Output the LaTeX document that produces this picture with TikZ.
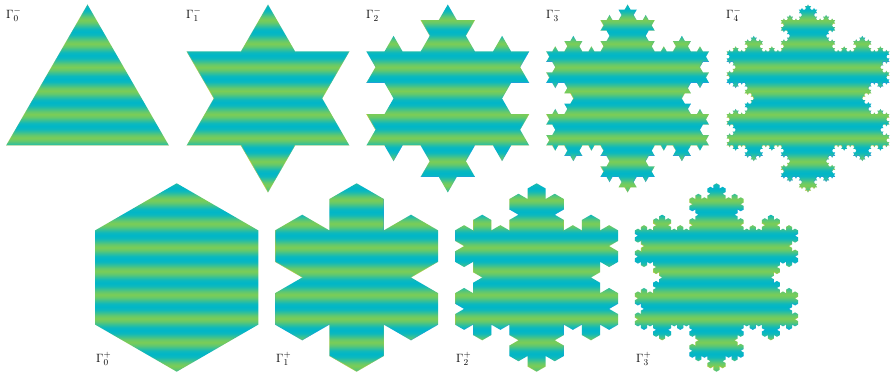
\documentclass[tikz,border=0pt]{standalone}
\usepackage{tikz}
\definecolor{gr}{RGB}{124,205,86}
\definecolor{te}{RGB}{0,182,200}
\definecolor{yl}{RGB}{250,200,40}
\definecolor{bl}{RGB}{40,140,245}
\colorlet{c0}{gr}
\colorlet{c1}{gr!80!te}
\colorlet{c2}{gr!44!te}
\colorlet{c3}{gr!10!te}
\colorlet{c4}{te}
\colorlet{c5}{c3}
\colorlet{c6}{c2}
\colorlet{c7}{c1}
% nine stripe periods, eight stops to the period
\gdef\stopsA{color(0bp)=(c0);color(25bp)=(c0)}
\foreach \i in {1,...,72}{%
  \pgfmathsetmacro\kpos{25+50*\i/72}%
  \pgfmathtruncatemacro\kidx{mod(\i,8)}%
  \xdef\stopsA{\stopsA;color(\kpos bp)=(c\kidx)}%
}
\xdef\stopsA{\stopsA;color(100bp)=(c0)}
\edef\kdeclare{\noexpand\pgfdeclareverticalshading{stripes}{100bp}{\stopsA}}
\kdeclare
\newdimen\kx \newdimen\ky \newcount\khead
\def\kturn#1{\global\advance\khead by #1\relax
  \ifnum\khead<0 \global\advance\khead by 12 \fi
  \ifnum\khead>11 \global\advance\khead by -12 \fi}
\def\kmove{%
  \global\advance\kx by \csname kdx\the\khead\endcsname\relax
  \global\advance\ky by \csname kdy\the\khead\endcsname\relax}
\def\ksegpath{\kmove\xdef\kpath{\kpath -- (\the\kx,\the\ky)}}
\def\ksegdraw{%
  \edef\xa{\the\kx}\edef\ya{\the\ky}\kmove
  \pgfmathsetmacro\kypx{375-0.5*(\ya+\the\ky)}%
  \pgfmathsetmacro\kv{cos(\kdeg*(\kypx-\kedge))-0.3*sin(30*\the\khead)}%
  \pgfmathsetmacro\ka{min(1,\kgain*(0.4-0.35*cos(30*\the\khead))*abs(\kv))}%
  \pgfmathsetmacro\ka{round(\ka*10)/10}%
  \ifdim\ka pt>0.05pt
    \ifdim\kv pt>0pt
      \draw[edgeline,draw=yl,draw opacity=\ka] (\xa,\ya) -- (\the\kx,\the\ky);
    \else
      \draw[edgeline,draw=bl,draw opacity=\ka] (\xa,\ya) -- (\the\kx,\the\ky);
    \fi
  \fi}
\def\kochgo#1{%
  \ifnum#1=0 \kseg
  \else
    \kochgo{\numexpr#1-1\relax}\kturn{\ksign}%
    \kochgo{\numexpr#1-1\relax}\kturn{\ksignb}%
    \kochgo{\numexpr#1-1\relax}\kturn{\ksign}%
    \kochgo{\numexpr#1-1\relax}%
  \fi}
\def\ksetstep#1{%
  \foreach \i in {0,...,11}{%
    \pgfmathsetlengthmacro\kta{#1*cos(30*\i)}%
    \pgfmathsetlengthmacro\ktb{-#1*sin(30*\i)}%
    \expandafter\xdef\csname kdx\i\endcsname{\kta}%
    \expandafter\xdef\csname kdy\i\endcsname{\ktb}%
  }}
\def\kwalk{%
  \global\kx=\kcx pt \global\ky=\ktop pt
  \global\khead=\kstart\relax
  \ifnum\ksides=3 \kochgo{\klev}\kturn{4}\kochgo{\klev}\kturn{4}\kochgo{\klev}%
  \else
    \kochgo{\klev}\kturn{2}\kochgo{\klev}\kturn{2}\kochgo{\klev}\kturn{2}%
    \kochgo{\klev}\kturn{2}\kochgo{\klev}\kturn{2}\kochgo{\klev}%
  \fi}
\def\kdrawshape{%
  \pgfmathsetmacro\kstepv{\kside/3^\klev}%
  \ksetstep{\kstepv}%
  \let\kseg\ksegpath
  \xdef\kpath{(\kcx pt,\ktop pt)}%
  \kwalk
  \begin{scope}
    \expandafter\clip\kpath -- cycle;
    \shade[shading=stripes] (\kcx pt-90pt,\krowa pt) rectangle (\kcx pt+90pt,\krowb pt);
    \let\kseg\ksegdraw
    \kwalk
  \end{scope}}
% triangle-based family (outward): #1 level, #2 centre x
\def\minusshape#1#2{%
  \def\klev{#1}\def\kcx{#2}\def\ktop{370.5}\def\kside{162.8}\def\ksides{3}\def\kstart{2}%
  \def\ksign{-2}\def\ksignb{4}%
  \def\krowa{378.6}\def\krowb{166.2}\def\kedge{26.4}\def\kdeg{15.254}\def\kgain{0.8}%
  \kdrawshape}
% hexagon-based family (inward)
\def\plusshape#1#2{%
  \def\klev{#1}\def\kcx{#2}\def\ktop{191.7}\def\kside{94.2}\def\ksides{6}\def\kstart{1}%
  \def\ksign{2}\def\ksignb{-4}%
  \def\krowa{198.7}\def\krowb{-14.6}\def\kedge{200}\def\kdeg{15.19}\def\kgain{0.65}%
  \kdrawshape}
\tikzset{
  edgeline/.style={line width=0.9pt,line cap=round},
  gammalabel/.style={anchor=base west,inner sep=0pt,font=\fontsize{12.5}{14}\selectfont}
}
\begin{document}
\begin{tikzpicture}
\useasboundingbox (0pt,0pt) rectangle (891pt,375pt);
\minusshape{0}{87.5}
\minusshape{1}{268}
\minusshape{2}{447.8}
\minusshape{3}{627.6}
\minusshape{4}{808}
\plusshape{0}{176.7}
\plusshape{1}{356.6}
\plusshape{2}{536.6}
\plusshape{3}{716.5}
\node[gammalabel] (m0) at (6pt,356.7pt) {$\Gamma_0^-$};
\node[gammalabel] (m1) at (186pt,356.7pt) {$\Gamma_1^-$};
\node[gammalabel] (m2) at (366pt,356.7pt) {$\Gamma_2^-$};
\node[gammalabel] (m3) at (546pt,356.7pt) {$\Gamma_3^-$};
\node[gammalabel] (m4) at (726pt,356.7pt) {$\Gamma_4^-$};
\node[gammalabel] (p0) at (96pt,12.3pt) {$\Gamma_0^+$};
\node[gammalabel] (p1) at (276pt,12.3pt) {$\Gamma_1^+$};
\node[gammalabel] (p2) at (456pt,12.3pt) {$\Gamma_2^+$};
\node[gammalabel] (p3) at (636pt,12.3pt) {$\Gamma_3^+$};
\end{tikzpicture}
\end{document}
